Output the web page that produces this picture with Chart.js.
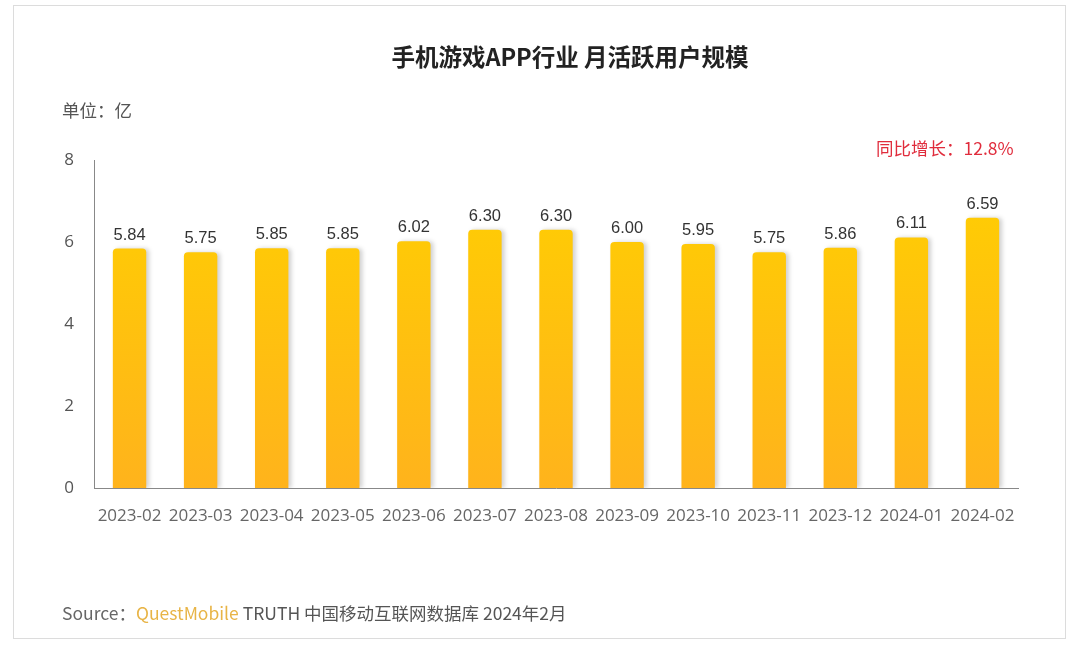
<!DOCTYPE html>
<html><head><meta charset="utf-8">
<script src="https://cdn.jsdelivr.net/npm/chart.js@4/dist/chart.umd.min.js"></script>
<style>
html,body{margin:0;padding:0;background:#fff;}
#wrap{position:relative;width:1080px;height:648px;}
#frame{position:absolute;left:13px;top:5px;width:1053px;height:634px;border:1px solid #dcdcdc;box-sizing:border-box;}
canvas{position:absolute;left:0;top:0;}
</style></head>
<body><div id="wrap"><div id="frame"></div><canvas id="c" width="1080" height="648"></canvas></div>
<script>
const categories = ["2023-02","2023-03","2023-04","2023-05","2023-06","2023-07","2023-08","2023-09","2023-10","2023-11","2023-12","2024-01","2024-02"];
const mauValues = [5.84,5.75,5.85,5.85,6.02,6.30,6.30,6.00,5.95,5.75,5.86,6.11,6.59];
const valueLabels = ["5.84","5.75","5.85","5.85","6.02","6.30","6.30","6.00","5.95","5.75","5.86","6.11","6.59"];
const titleText = "手机游戏APP行业 月活跃用户规模";
const unitText = "单位：亿";
const growthText = "同比增长：12.8%";
const yTicks = [0,2,4,6,8];

const textPlugin = {
  id:'texts',
  beforeDatasetsDraw(chart){
    const c = chart.ctx;
    c.save();
    c.shadowColor='rgba(0,0,0,0.18)';
    c.shadowBlur=4;
    c.shadowOffsetX=3;
    c.shadowOffsetY=0;
  },
  afterDatasetsDraw(chart){
    const c = chart.ctx;
    c.restore();
    c.save();
    const meta = chart.getDatasetMeta(0);
    c.font = '16.5px "Liberation Sans", Arial, sans-serif';
    c.fillStyle = '#333';
    c.textAlign='center';
    c.textBaseline='alphabetic';
    meta.data.forEach((bar,i)=>{
      c.fillText(valueLabels[i], bar.x, bar.y - 9);
    });
    c.restore();
  },
  afterDraw(chart){
    const c = chart.ctx;
    c.save();
    c.textBaseline='middle';
    c.fillStyle='#222';
    c.font='bold 23.5px "Noto Sans CJK SC", sans-serif';
    c.textAlign='center';
    c.fillText(titleText, 570, 57);
    c.fillStyle='#555';
    c.font='17.5px "Noto Sans CJK SC", sans-serif';
    c.textAlign='left';
    c.fillText(unitText, 62, 110);
    c.fillStyle='#e02c3c';
    c.font='17.5px "Noto Sans CJK SC", sans-serif';
    c.fillText(growthText, 876, 148);
    // source
    c.font='17.5px "Noto Sans CJK SC", sans-serif';
    let x = 62;
    const y = 613;
    const parts = [["Source：","#666"],["QuestMobile","#e8b446"],[" TRUTH 中国移动互联网数据库 2024年2月","#555"]];
    parts.forEach(p=>{ c.fillStyle=p[1]; c.fillText(p[0], x, y); x += c.measureText(p[0]).width; });
    c.restore();
  }
};

new Chart(document.getElementById('c'), {
  type:'bar',
  data:{
    labels:categories,
    datasets:[{
      data:mauValues,
      backgroundColor(ctx){
        const ch = ctx.chart; const a = ch.chartArea;
        if(!a) return '#ffc60a';
        const g = ch.ctx.createLinearGradient(0,a.top,0,a.bottom);
        g.addColorStop(0,'#ffd000');
        g.addColorStop(1,'#ffb31c');
        return g;
      },
      borderRadius:{topLeft:4,topRight:4,bottomLeft:0,bottomRight:0},
      borderSkipped:'bottom',
      categoryPercentage:1.0,
      barPercentage:0.47
    }]
  },
  options:{
    responsive:false,
    animation:false,
    devicePixelRatio:1,
    layout:{padding:{left:0,right:62,top:160,bottom:100}},
    plugins:{legend:{display:false},tooltip:{enabled:false},title:{display:false}},
    scales:{
      x:{
        grid:{display:false,drawTicks:false},
        border:{display:true,color:'#888',width:1},
        ticks:{color:'#666',font:{family:'"Open Sans", "Noto Sans", sans-serif',size:17},padding:18,maxRotation:0,autoSkip:false},
        afterFit(s){s.height=60;}
      },
      y:{
        min:0,max:8,
        afterBuildTicks(s){ s.ticks = yTicks.map(v=>({value:v})); },
        grid:{display:false,drawTicks:false},
        border:{display:true,color:'#888',width:1},
        ticks:{color:'#555',font:{family:'"Open Sans", "Noto Sans", sans-serif',size:17},padding:20},
        afterFit(s){s.width=94;}
      }
    }
  },
  plugins:[textPlugin]
});
</script></body></html>
